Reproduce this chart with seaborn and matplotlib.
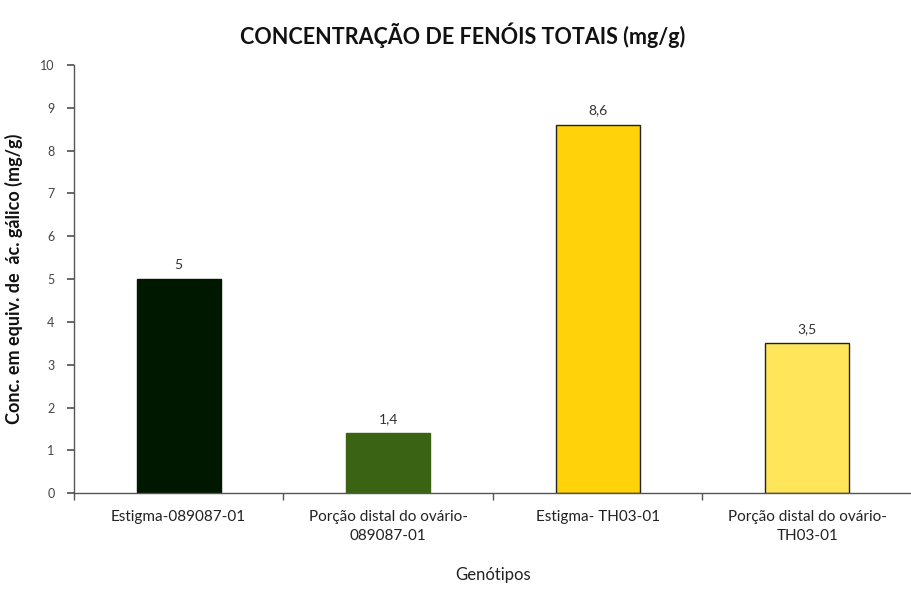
import matplotlib
matplotlib.use("Agg")
import matplotlib.pyplot as plt
import seaborn as sns
import pandas as pd

categories = ["Estigma-089087-01", "Porção distal do ovário-\n089087-01",
              "Estigma- TH03-01", "Porção distal do ovário-\nTH03-01"]
values = [5.0, 1.4, 8.6, 3.5]
value_labels = ["5", "1,4", "8,6", "3,5"]
bar_colors = ["#001800", "#3b6314", "#ffd20a", "#ffe55a"]
yticks = list(range(0, 11))

sns.set_theme(style="white")
plt.rcParams['font.family'] = ['Lato', 'DejaVu Sans']

df = pd.DataFrame({"cat": categories, "val": values})

fig = plt.figure(figsize=(9.12, 5.90), dpi=100)
ax = fig.add_axes([0.081, 0.164, 0.919, 0.726])

sns.barplot(data=df, x="cat", y="val", hue="cat", palette=bar_colors,
            legend=False, width=0.4, ax=ax, saturation=1)
for i, p in enumerate(ax.patches):
    p.set_edgecolor("#222222" if i >= 2 else p.get_facecolor())
    p.set_linewidth(1.0)

for i, (v, lab) in enumerate(zip(values, value_labels)):
    ax.text(i, v + 0.2, lab, ha="center", va="bottom", fontsize=10, color="#333333")

ax.set_ylim(0, 10)
ax.set_xlim(-0.5, 3.5)
ax.set_yticks(yticks)
ax.set_yticklabels([str(t) for t in yticks], fontsize=9, color="#444444")
ax.set_xticks([0, 1, 2, 3])
ax.set_xticklabels(categories, fontsize=11, color="#222222", linespacing=1.5)

for s in ["top", "right"]:
    ax.spines[s].set_visible(False)
for s in ["left", "bottom"]:
    ax.spines[s].set_color("#555555")
    ax.spines[s].set_linewidth(1.0)

ax.tick_params(axis="y", which="major", direction="out", length=5, color="#555555", left=True, pad=9)
ax.tick_params(axis="x", which="major", length=0, pad=12)
# category boundary ticks
ax.set_xticks([-0.5, 0.5, 1.5, 2.5, 3.5], minor=True)
ax.tick_params(axis="x", which="minor", direction="out", length=5, color="#555555", bottom=True)

ax.set_xlabel("Genótipos", fontsize=12, color="#222222", labelpad=17)
ax.set_ylabel("Conc. em equiv. de  ác. gálico (mg/g)", fontsize=13, fontweight="bold",
              color="#111111", labelpad=12)
fig.text(0.507, 0.94, "CONCENTRAÇÃO DE FENÓIS TOTAIS (mg/g)", ha="center", va="center",
         fontsize=15.5, fontweight="bold", color="#111111")

fig.savefig("out.png", dpi=100, facecolor="white")
